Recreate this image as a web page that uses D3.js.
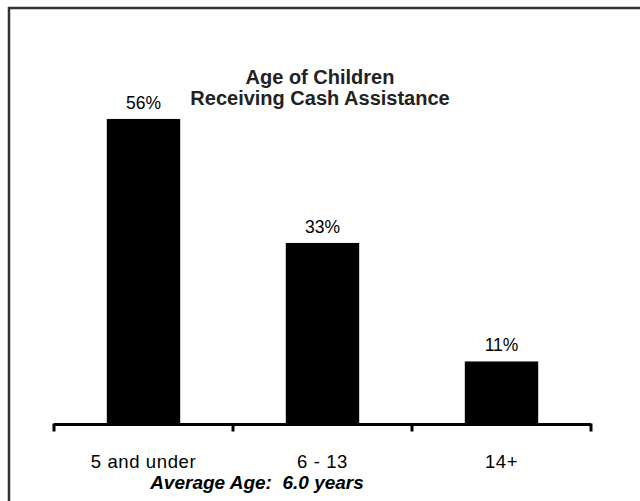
<!DOCTYPE html>
<html><head><meta charset="utf-8">
<script src="https://cdn.jsdelivr.net/npm/d3@7"></script>
<style>html,body{margin:0;padding:0;background:#fff;}svg{display:block;}</style>
</head><body>
<script>
const categories = ["5 and under", "6 - 13", "14+"];
const values = [55.6, 33.0, 11.4];
const valueLabels = ["56%", "33%", "11%"];
const titleLines = ["Age of Children", "Receiving Cash Assistance"];
const footnote = "Average Age:  6.0 years";

const W = 640, H = 501;
const svg = d3.select("body").append("svg").attr("width", W).attr("height", H);
svg.append("rect").attr("width", W).attr("height", H).attr("fill", "#fff");

// frame (extends beyond right/bottom edges)
svg.append("rect").attr("x", 9).attr("y", 8).attr("width", 700).attr("height", 600)
  .attr("fill", "none").attr("stroke", "#333").attr("stroke-width", 2.5);

const x = d3.scaleBand().domain(categories).range([54, 591]).paddingInner(0.59).paddingOuter(0.295);
const y = d3.scaleLinear().domain([0, 60]).range([424, 94.8]);

svg.selectAll("rect.bar").data(values).join("rect").attr("class", "bar")
  .attr("x", (d, i) => x(categories[i]))
  .attr("y", d => y(d))
  .attr("width", x.bandwidth())
  .attr("height", d => y(0) - y(d))
  .attr("fill", "#000");

svg.selectAll("text.val").data(values).join("text").attr("class", "val")
  .attr("x", (d, i) => x(categories[i]) + x.bandwidth() / 2)
  .attr("y", d => y(d) - 10)
  .attr("text-anchor", "middle")
  .attr("font-family", "Liberation Sans, Arial, sans-serif")
  .attr("font-size", 17.5).attr("fill", "#000")
  .text((d, i) => valueLabels[i]);

// axis
const axisG = svg.append("g").attr("transform", "translate(0,424.5)");
axisG.append("line").attr("x1", 54).attr("x2", 591).attr("stroke", "#000").attr("stroke-width", 3);
const bounds = categories.map(c => x(c) - x.step() * x.paddingInner() / 2).concat([591]);
bounds[0] = 54;
axisG.selectAll("line.tick").data(bounds).join("line").attr("class", "tick")
  .attr("x1", d => d).attr("x2", d => d).attr("y1", -1).attr("y2", 7)
  .attr("stroke", "#000").attr("stroke-width", 3);
axisG.selectAll("text.cat").data(categories).join("text").attr("class", "cat")
  .attr("x", d => x(d) + x.bandwidth() / 2)
  .attr("y", 43)
  .attr("text-anchor", "middle")
  .attr("font-family", "Liberation Sans, Arial, sans-serif")
  .attr("font-size", 18.5).attr("letter-spacing", 0.6).attr("fill", "#000")
  .text(d => d);

svg.selectAll("text.title").data(titleLines).join("text").attr("class", "title")
  .attr("x", 320).attr("y", (d, i) => 84 + i * 21)
  .attr("text-anchor", "middle")
  .attr("font-family", "Liberation Sans, Arial, sans-serif")
  .attr("font-weight", "bold").attr("font-size", 20).attr("fill", "#222")
  .text(d => d);

svg.append("text").attr("x", 257).attr("y", 489)
  .attr("text-anchor", "middle")
  .attr("font-family", "Liberation Sans, Arial, sans-serif")
  .attr("font-weight", "bold").attr("font-style", "italic").attr("font-size", 19)
  .attr("fill", "#000").attr("xml:space", "preserve").style("white-space", "pre")
  .text(footnote);
</script>
</body></html>
